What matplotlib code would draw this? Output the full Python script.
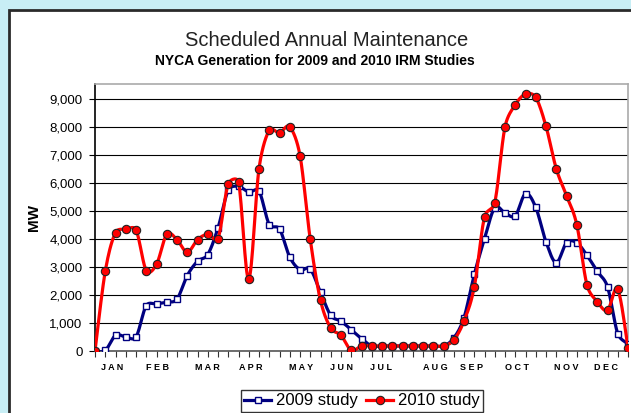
import numpy as np
import matplotlib
matplotlib.use("Agg")
import matplotlib.pyplot as plt
from matplotlib.patches import Rectangle

plt.rcParams["font.family"] = ["Liberation Sans", "DejaVu Sans"]

# weekly points, 53 of them
weeks = np.arange(53)

study_2009 = [0, 20, 560, 500, 500, 1620, 1680, 1740, 1850, 2690,
              3200, 3440, 4390, 5730, 5870, 5670, 5700, 4510, 4350, 3350,
              2900, 2920, 2090, 1270, 1060, 760, 440, 180, 180, 180,
              180, 180, 180, 180, 180, 460, 1190, 2730, 4000, 5110,
              4920, 4820, 5610, 5120, 3890, 3150, 3860, 3860, 3410, 2840,
              2290, 620, 260]

study_2010 = [0, 2840, 4220, 4340, 4320, 2870, 3090, 4160, 3970, 3520,
              3970, 4160, 4010, 5960, 6030, 2570, 6500, 7870, 7780, 7990,
              6970, 3980, 1810, 820, 560, 20, 180, 180, 180, 180,
              180, 180, 180, 180, 180, 390, 1070, 2280, 4780, 5290,
              7990, 8780, 9160, 9040, 8010, 6500, 5540, 4510, 2350, 1760,
              1450, 2200, 120]

month_names = ["J A N", "F E B", "M A R", "A P R", "M A Y", "J U N",
               "J U L", "A U G", "S E P", "O C T", "N O V", "D E C"]
month_weeks = [1.7, 6.1, 11.0, 15.2, 20.1, 24.0, 27.9, 33.2, 36.7, 41.2, 46.0, 49.9]

# pixel size of one week and of 1 MW, used only for the smoothing
XPX = 10.23
YPX = 28.04 / 1000


def smooth(x, y, n=16):
    # excel style bezier smoothing, worked out in screen space
    px = np.asarray(x, float) * XPX
    py = np.asarray(y, float) * YPX
    pts = np.column_stack([px, py])
    pts = np.vstack([pts[0], pts, pts[-1]])
    t = np.linspace(0, 1, n, endpoint=False)[:, None]
    out = []
    for i in range(len(px) - 1):
        p0, p1, p2, p3 = pts[i], pts[i + 1], pts[i + 2], pts[i + 3]
        d12 = np.hypot(*(p2 - p1))
        d02 = np.hypot(*(p2 - p0))
        d13 = np.hypot(*(p3 - p1))
        f0 = 1 / 6
        f1 = 1 / 6
        if d02 / 6 >= d12 / 2 and d02 > 0:
            f0 = d12 / (2 * d02)
        if d13 / 6 >= d12 / 2 and d13 > 0:
            f1 = d12 / (2 * d13)
        c1 = p1 + f0 * (p2 - p0)
        c2 = p2 - f1 * (p3 - p1)
        b = (1 - t) ** 3 * p1 + 3 * (1 - t) ** 2 * t * c1 \
            + 3 * (1 - t) * t ** 2 * c2 + t ** 3 * p2
        out.append(b)
    out.append(pts[-1][None, :])
    out = np.vstack(out)
    return out[:, 0] / XPX, out[:, 1] / YPX


fig = plt.figure(figsize=(6.31, 4.13), dpi=100)
fig.patch.set_facecolor("#c8eef5")
fig.patches.append(Rectangle((9 / 631, -0.1), 1.1, 1 - 10 / 413 + 0.1,
                             transform=fig.transFigure, facecolor="white",
                             edgecolor="#2a2a2a", linewidth=2, zorder=-5))

ax = fig.add_axes([95 / 631, 62 / 413, 533 / 631, 267 / 413])
ax.set_zorder(2)

blue = "#000080"
red = "#ff0000"

sx, sy = smooth(weeks, study_2009)
ax.plot(sx, sy, color=blue, lw=2.3, zorder=3)
ax.plot(weeks, study_2009, ls="none", marker="s", ms=4.5, mfc="white",
        mec=blue, mew=1, zorder=4)

sx, sy = smooth(weeks, study_2010)
ax.plot(sx, sy, color=red, lw=2.3, zorder=5)
ax.plot(weeks, study_2010, ls="none", marker="o", ms=6, mfc=red,
        mec="#222222", mew=0.8, zorder=6)

ax.set_xlim(0, 52)
ax.set_ylim(0, 9520)
ax.set_yticks(np.arange(0, 9001, 1000))
ax.set_yticklabels([f"{v:,}" for v in range(0, 9001, 1000)], fontsize=9.5)
ax.set_xticks(weeks)
ax.set_xticklabels([])
ax.tick_params(axis="x", length=4, color="#333333", direction="out")
ax.tick_params(axis="y", length=4, color="black", direction="out", pad=5)
ax.grid(axis="y", color="black", lw=0.8)
ax.set_axisbelow(True)

for name, w in zip(month_names, month_weeks):
    ax.text(w, -420, name, ha="center", va="top", fontsize=6.5,
            fontweight="bold")

ax.spines["left"].set_color("black")
ax.spines["bottom"].set_color("#555555")
ax.spines["top"].set_color("#aaaaaa")
ax.spines["right"].set_color("#aaaaaa")
for s in ax.spines.values():
    s.set_linewidth(1.2)

ax.set_ylabel("MW", fontsize=11, fontweight="bold", labelpad=6)

fig.text(327 / 631, 1 - 40 / 413, "Scheduled Annual Maintenance",
         ha="center", va="center", fontsize=14.5, color="#222222")
fig.text(315 / 631, 1 - 61 / 413, "NYCA Generation for 2009 and 2010 IRM Studies",
         ha="center", va="center", fontsize=10, fontweight="bold",
         family=["Liberation Sans Narrow", "Liberation Sans"])

h1 = plt.Line2D([], [], color=blue, lw=2.3, marker="s", ms=4.5, mfc="white",
                mec=blue, mew=1)
h2 = plt.Line2D([], [], color=red, lw=2.3, marker="o", ms=6, mfc=red,
                mec="#222222", mew=0.8)
leg = fig.legend([h1, h2], ["2009 study", "2010 study"], loc="upper center",
                 bbox_to_anchor=(362 / 631, 1 - 390 / 413), ncol=2,
                 fontsize=12, frameon=True, fancybox=False, handlelength=1.6,
                 handletextpad=0.3, columnspacing=0.5, borderpad=0.2,
                 borderaxespad=0)
leg.get_frame().set_edgecolor("black")
leg.get_frame().set_linewidth(1)

fig.savefig("out.png", dpi=100, facecolor=fig.get_facecolor())
